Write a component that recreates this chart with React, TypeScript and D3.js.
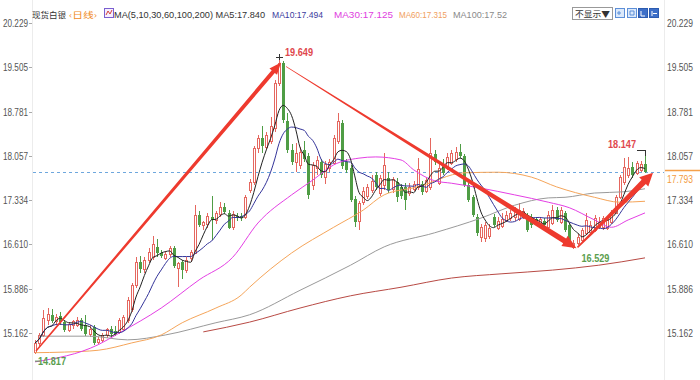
import React from 'react';
import * as d3 from 'd3';

// ---------- data ----------
const tickValues = [20.229, 19.505, 18.781, 18.057, 17.334, 16.61, 15.886, 15.162];
const tickLabels = ['20.229', '19.505', '18.781', '18.057', '17.334', '16.610', '15.886', '15.162'];

const opens = [
  14.85, 15.0, 15.13, 15.38, 15.46, 15.35, 15.44, 15.34, 15.22, 15.28,
  15.3, 15.37, 15.3, 15.14, 15.26, 15.02, 15.05, 15.13, 15.22, 15.2,
  15.18, 15.22, 15.37, 15.54, 15.94, 16.32, 16.2, 16.36, 16.4, 16.57,
  16.47, 16.4, 16.45, 16.55, 16.22, 16.32, 16.19, 16.38, 16.47, 17.09,
  16.92, 16.95, 17.05, 17.0, 17.1, 17.22, 17.12, 16.88, 17.08, 17.07,
  17.06, 17.5, 17.63, 18.19, 18.35, 18.2, 18.3, 18.51, 19.25, 19.57,
  18.62, 18.15, 17.96, 17.91, 18.15, 18.05, 17.58, 17.86, 17.96, 17.72,
  17.86, 17.94, 18.3, 18.59, 17.96, 17.86, 17.35, 16.98, 17.3, 17.4,
  17.5, 17.74, 17.45, 17.58, 17.69, 17.52, 17.63, 17.55, 17.55, 17.45,
  17.52, 17.55, 17.6, 17.48, 17.55, 18.08, 17.62, 17.93, 17.88, 17.94,
  18.0, 18.12, 18.05, 17.58, 17.38, 17.06, 16.73, 16.7, 16.75, 17.06,
  16.88, 16.92, 17.01, 17.04, 17.06, 17.03, 17.06, 17.06, 17.05, 17.02,
  16.96, 17.0, 16.9, 16.96, 17.17, 16.98, 17.12, 16.93, 16.58, 16.63,
  16.68, 16.8, 16.82, 16.85, 16.9, 16.89, 16.88, 16.98, 17.13, 17.39,
  17.62, 17.74, 17.87, 17.78, 17.83, 17.92,
];
const highs = [
  15.05, 15.16, 15.54, 15.57, 15.55, 15.47, 15.5, 15.38, 15.34, 15.38,
  15.42, 15.4, 15.45, 15.3, 15.3, 15.1, 15.16, 15.25, 15.27, 15.28,
  15.4, 15.45, 15.75, 15.98, 16.4, 16.42, 16.4, 16.55, 16.75, 16.7,
  16.52, 16.5, 16.58, 16.58, 16.32, 16.35, 16.4, 16.52, 17.25, 17.15,
  17.0, 17.12, 17.4, 17.15, 17.3, 17.28, 17.18, 17.15, 17.12, 17.12,
  17.42, 17.68, 18.22, 18.4, 18.55, 18.45, 18.7, 19.3, 19.649, 19.6,
  18.75, 18.25, 18.27, 18.2, 18.3, 18.1, 17.95, 18.05, 18.0, 17.98,
  18.0, 18.4, 18.75, 18.65, 18.0, 17.9, 17.4, 17.32, 17.55, 17.6,
  17.75, 17.8, 17.75, 18.1, 17.8, 17.72, 17.7, 17.6, 17.62, 17.62,
  17.65, 18.02, 17.65, 17.7, 18.35, 18.15, 17.92, 18.0, 18.1, 18.15,
  18.2, 18.25, 18.08, 17.62, 17.42, 17.1, 16.95, 16.98, 16.95, 17.1,
  17.05, 17.12, 17.15, 17.18, 17.22, 17.28, 17.2, 17.12, 17.1, 17.06,
  17.05, 17.04, 17.15, 17.25, 17.22, 17.22, 17.15, 16.96, 16.68, 16.78,
  16.88, 17.12, 17.0, 17.09, 17.05, 17.08, 17.06, 17.18, 17.42, 17.75,
  18.02, 18.04, 17.95, 17.97, 17.98, 18.147,
];
const lows = [
  14.817, 14.95, 15.1, 15.3, 15.33, 15.3, 15.3, 15.18, 15.18, 15.22,
  15.26, 15.2, 15.12, 15.1, 14.97, 14.98, 15.02, 15.08, 15.1, 15.12,
  15.15, 15.2, 15.33, 15.5, 15.9, 16.15, 16.15, 16.3, 16.35, 16.4,
  16.38, 16.35, 16.4, 16.22, 15.91, 16.05, 16.15, 16.33, 16.45, 16.9,
  16.85, 16.88, 16.68, 16.95, 17.05, 17.1, 16.86, 16.85, 17.0, 17.0,
  17.02, 17.45, 17.58, 18.1, 18.1, 18.15, 18.25, 18.45, 19.2, 18.6,
  18.1, 17.9, 17.8, 17.85, 17.95, 17.35, 17.5, 17.75, 17.7, 17.6,
  17.8, 17.9, 18.25, 17.85, 17.78, 17.3, 16.9, 16.85, 17.25, 17.35,
  17.45, 17.5, 17.4, 17.5, 17.45, 17.45, 17.3, 17.35, 17.17, 17.4,
  17.48, 17.5, 17.42, 17.45, 17.5, 17.9, 17.58, 17.75, 17.82, 17.9,
  17.95, 18.02, 17.55, 17.3, 17.05, 16.75, 16.65, 16.65, 16.7, 16.9,
  16.85, 16.88, 16.98, 17.0, 17.0, 17.0, 17.02, 16.82, 16.88, 16.96,
  16.92, 16.9, 16.88, 16.92, 16.98, 16.95, 16.82, 16.57, 16.529, 16.6,
  16.65, 16.76, 16.78, 16.82, 16.86, 16.85, 16.85, 16.95, 17.1, 17.35,
  17.58, 17.7, 17.7, 17.74, 17.8, 17.78,
];
const closes = [
  15.0, 15.13, 15.41, 15.48, 15.37, 15.42, 15.34, 15.21, 15.31, 15.35,
  15.38, 15.22, 15.16, 15.22, 15.0, 15.07, 15.13, 15.22, 15.14, 15.15,
  15.37, 15.42, 15.7, 15.94, 16.32, 16.2, 16.35, 16.49, 16.62, 16.47,
  16.42, 16.46, 16.55, 16.26, 16.3, 16.19, 16.36, 16.48, 17.09, 16.93,
  16.97, 17.08, 17.0, 17.12, 17.22, 17.14, 16.88, 17.1, 17.05, 17.04,
  17.38, 17.63, 18.19, 18.35, 18.22, 18.4, 18.55, 19.25, 19.57, 18.64,
  18.15, 17.96, 18.1, 18.12, 18.0, 17.42, 17.9, 17.99, 17.75, 17.93,
  17.96, 18.35, 18.62, 17.88, 17.83, 17.34, 16.98, 17.28, 17.48, 17.55,
  17.65, 17.55, 17.7, 17.9, 17.5, 17.68, 17.38, 17.4, 17.34, 17.55,
  17.6, 17.85, 17.47, 17.66, 18.1, 17.95, 17.86, 17.78, 18.04, 18.1,
  18.12, 18.06, 17.58, 17.34, 17.09, 16.8, 16.89, 16.92, 16.88, 16.93,
  17.0, 17.03, 17.09, 17.12, 17.17, 17.17, 17.15, 16.85, 16.92, 16.99,
  17.02, 16.94, 17.09, 17.18, 17.01, 17.17, 16.85, 16.6, 16.64, 16.73,
  16.85, 17.01, 16.93, 17.04, 16.98, 17.04, 17.02, 17.14, 17.39, 17.71,
  17.87, 17.86, 17.74, 17.94, 17.92, 17.793,
];

// long moving averages (candle index, value)
const ma30Idx = [0, 15, 20, 30, 39, 47, 53, 61, 66, 71, 77, 81, 87, 90, 95, 99, 106, 114, 122, 127, 133, 137, 141, 145];
const ma30Val = [14.69, 14.97, 15.16, 15.57, 16.03, 16.4, 16.96, 17.42, 17.66, 17.91, 18.02, 18.04, 17.99, 17.83, 17.65, 17.61, 17.53, 17.42, 17.3, 17.21, 17.01, 16.89, 17.01, 17.125];
const ma60Idx = [0, 7, 15, 23, 30, 35, 43, 49, 51, 61, 71, 78, 83, 91, 102, 110, 118, 124, 133, 139, 145];
const ma60Val = [14.84, 14.85, 14.88, 15.0, 15.13, 15.33, 15.57, 15.78, 15.91, 16.47, 16.89, 17.17, 17.42, 17.55, 17.78, 17.79, 17.71, 17.55, 17.38, 17.3, 17.315];
const ma100Idx = [1, 13, 22, 31, 43, 51, 63, 75, 83, 95, 106, 114, 122, 126, 133, 140, 145];
const ma100Val = [15.11, 15.11, 15.05, 15.13, 15.33, 15.46, 15.86, 16.27, 16.57, 16.8, 17.04, 17.25, 17.37, 17.38, 17.45, 17.47, 17.52];
const ma200Idx = [40, 51, 63, 75, 87, 99, 111, 123, 134, 145];
const ma200Val = [15.18, 15.34, 15.57, 15.77, 15.91, 16.06, 16.13, 16.19, 16.27, 16.39];

const legendItems = [
  { text: 'MA(5,10,30,60,100,200) MA5:17.840', color: '#333333' },
  { text: 'MA10:17.494', color: '#3b3b9e' },
  { text: 'MA30:17.125', color: '#e040e0' },
  { text: 'MA60:17.315', color: '#f0a060' },
  { text: 'MA100:17.52', color: '#8a8a8a' },
];

const RED = '#e5675f';
const GREEN = '#4f9d45';
const ARROW = '#ee3a2e';

function taperArrow(x0: number, y0: number, x1: number, y1: number, w0: number, w1: number, hl: number, hw: number) {
  const dx = x1 - x0, dy = y1 - y0;
  const len = Math.hypot(dx, dy);
  const ux = dx / len, uy = dy / len;
  const nx = -uy, ny = ux;
  const bx = x1 - ux * hl, by = y1 - uy * hl;
  const pts: [number, number][] = [
    [x0 + nx * w0 / 2, y0 + ny * w0 / 2],
    [bx + nx * w1 / 2, by + ny * w1 / 2],
    [bx + nx * hw / 2, by + ny * hw / 2],
    [x1, y1],
    [bx - nx * hw / 2, by - ny * hw / 2],
    [bx - nx * w1 / 2, by - ny * w1 / 2],
    [x0 - nx * w0 / 2, y0 - ny * w0 / 2],
  ];
  return 'M' + pts.map((p) => p[0].toFixed(2) + ',' + p[1].toFixed(2)).join('L') + 'Z';
}

export default function App() {
  const W = 700, H = 380;
  const n = closes.length;
  const x = d3.scaleLinear().domain([0, n - 1]).range([35, 645]);
  const y = d3.scaleLinear().domain([15.162, 20.229]).range([333, 23]);

  const maOf = (p: number) =>
    closes.map((_, i) => d3.mean(closes.slice(Math.max(0, i - p + 1), i + 1)) as number);
  const ma5 = maOf(5);
  const ma10 = maOf(10);

  const lineIdx = d3.line<number>().x((_, i) => x(i)).y((d) => y(d)).curve(d3.curveMonotoneX);
  const sparse = (idx: number[], val: number[]) =>
    d3.line<number>().x((d) => x(d)).y((_, i) => y(val[i])).curve(d3.curveMonotoneX)(idx) as string;

  const font = "'Liberation Sans', Arial, 'Noto Sans CJK SC', sans-serif";
  const cjk = "'Noto Sans CJK SC', 'Liberation Sans', sans-serif";

  const lastY = y(closes[n - 1]);
  const peakI = highs.indexOf(d3.max(highs) as number);
  const lowI = lows.indexOf(d3.min(lows) as number);
  const troughI = 128;
  const recentHighI = n - 1;

  // legend x positions and widths
  const legendX = [114, 272, 334, 399, 453];
  const legendW = [151, 51, 59, 48, 54];

  return (
    <svg width={W} height={H} style={{ position: 'absolute', left: 0, top: 0, background: '#fff' }} fontFamily={font}>
      <rect x={0} y={0} width={W} height={H} fill="#ffffff" />
      {/* axis boundary lines */}
      <line x1={32.5} x2={32.5} y1={0} y2={H} stroke="#ececec" />
      <line x1={664.5} x2={664.5} y1={0} y2={H} stroke="#ececec" />

      {/* tick labels */}
      {tickValues.map((v, i) => (
        <g key={'t' + i}>
          <text x={3} y={y(v) + 4} fontSize={10.5} fill="#555" textLength={25} lengthAdjust="spacingAndGlyphs">{tickLabels[i]}</text>
          <line x1={29} x2={32} y1={Math.round(y(v)) + 0.5} y2={Math.round(y(v)) + 0.5} stroke="#aaa" />
          <text x={667} y={y(v) + 4} fontSize={10.5} fill="#555" textLength={26} lengthAdjust="spacingAndGlyphs">{tickLabels[i]}</text>
        </g>
      ))}

      {/* current price dashed line */}
      <line x1={33} x2={664} y1={Math.round(lastY) + 0.5} y2={Math.round(lastY) + 0.5} stroke="#6ea7dd" strokeDasharray="3,3" />
      <line x1={665} x2={700} y1={Math.round(lastY) - 1.5} y2={Math.round(lastY) - 1.5} stroke="#f5a04a" strokeWidth={1.5} />
      <text x={667} y={lastY + 11} fontSize={10.5} fill="#f39a3c" textLength={26} lengthAdjust="spacingAndGlyphs">17.793</text>

      {/* candles */}
      {closes.map((c, i) => {
        const o = opens[i];
        const cx = Math.round(x(i));
        const up = c >= o;
        const top = y(Math.max(o, c));
        const bot = y(Math.min(o, c));
        const col = up ? RED : GREEN;
        return (
          <g key={'c' + i} shapeRendering="crispEdges">
            <line x1={cx + 0.5} x2={cx + 0.5} y1={y(highs[i])} y2={y(lows[i])} stroke={col} />
            {up ? (
              <rect x={cx - 0.5} y={Math.round(top) + 0.5} width={2} height={Math.max(1, Math.round(bot - top))} fill="#fff" stroke={col} />
            ) : (
              <rect x={cx - 1} y={Math.round(top)} width={3} height={Math.max(1, Math.round(bot - top))} fill={col} />
            )}
          </g>
        );
      })}

      {/* moving averages */}
      <path d={sparse(ma200Idx, ma200Val)} fill="none" stroke="#b84a44" strokeWidth={1} />
      <path d={sparse(ma100Idx, ma100Val)} fill="none" stroke="#9a9a9a" strokeWidth={1} />
      <path d={sparse(ma60Idx, ma60Val)} fill="none" stroke="#f5a55a" strokeWidth={1} />
      <path d={sparse(ma30Idx, ma30Val)} fill="none" stroke="#e43fe4" strokeWidth={1} />
      <path d={lineIdx(ma10) as string} fill="none" stroke="#34349a" strokeWidth={1} />
      <path d={lineIdx(ma5) as string} fill="none" stroke="#222" strokeWidth={1} />

      {/* trend arrows */}
      <path d={taperArrow(x(0) + 1, y(lows[0]) - 3, x(peakI) + 2, y(highs[peakI]) + 4, 1.5, 4, 12, 10)} fill={ARROW} />
      <path d={taperArrow(x(peakI) + 7, y(highs[peakI]) + 8, x(troughI) + 3, y(lows[troughI]) - 1, 0.8, 5.5, 14, 12)} fill={ARROW} />
      <path d={taperArrow(x(troughI) + 4, y(lows[troughI]) - 2, 653, y(17.78), 1.5, 6, 13, 13)} fill={ARROW} />

      {/* extreme annotations */}
      <g stroke="#333" strokeWidth={1} shapeRendering="crispEdges">
        <line x1={x(peakI) - 3} x2={x(peakI) + 4} y1={Math.round(y(highs[peakI])) - 0.5} y2={Math.round(y(highs[peakI])) - 0.5} />
        <line x1={Math.round(x(peakI)) + 0.5} x2={Math.round(x(peakI)) + 0.5} y1={y(highs[peakI]) - 4} y2={y(highs[peakI]) + 2} />
        <line x1={x(recentHighI) - 8} x2={x(recentHighI) + 1} y1={Math.round(y(highs[recentHighI])) + 0.5} y2={Math.round(y(highs[recentHighI])) + 0.5} />
        <line x1={Math.round(x(recentHighI)) + 0.5} x2={Math.round(x(recentHighI)) + 0.5} y1={y(highs[recentHighI])} y2={y(highs[recentHighI]) + 6} />
      </g>
      <text x={x(peakI) + 6} y={y(highs[peakI]) - 2} fontSize={10.5} fontWeight="bold" fill="#e0474c" textLength={28} lengthAdjust="spacingAndGlyphs">19.649</text>
      <text x={x(lowI) + 3} y={y(lows[lowI]) + 11} fontSize={10.5} fontWeight="bold" fill="#5a9e4e" textLength={28} lengthAdjust="spacingAndGlyphs">14.817</text>
      <line x1={x(lowI)} x2={x(lowI) + 5} y1={y(lows[lowI]) + 7} y2={y(lows[lowI]) + 7} stroke="#5a9e4e" />
      <text x={x(troughI) + 8} y={y(lows[troughI]) + 13} fontSize={10.5} fontWeight="bold" fill="#5a9e4e" textLength={28} lengthAdjust="spacingAndGlyphs">16.529</text>
      <text x={608} y={y(highs[recentHighI]) - 2} fontSize={10.5} fontWeight="bold" fill="#e0474c" textLength={28} lengthAdjust="spacingAndGlyphs">18.147</text>

      {/* header legend */}
      <text x={32} y={18} fontSize={8.5} fill="#333" fontFamily={cjk} textLength={34} lengthAdjust="spacingAndGlyphs">现货白银</text>
      <text x={69} y={18} fontSize={8.5} fill="#f08a24" fontFamily={cjk} textLength={28} lengthAdjust="spacingAndGlyphs">‹日线›</text>
      <rect x={104.5} y={8.5} width={9} height={9} fill="#f6eefe" stroke="#7a5fd0" />
      <path d="M106,15 L108,11 L110,14 L112,10" fill="none" stroke="#d2443c" />
      {legendItems.map((it, i) => (
        <text key={'l' + i} x={legendX[i]} y={18} fontSize={9} fill={it.color} textLength={legendW[i]} lengthAdjust="spacingAndGlyphs">{it.text}</text>
      ))}

      {/* top-right controls */}
      <rect x={572.5} y={7.5} width={40} height={12} fill="#fff" stroke="#999" />
      <text x={575} y={17} fontSize={8.5} fill="#333" fontFamily={cjk} textLength={35} lengthAdjust="spacingAndGlyphs">不显示▼</text>
      <rect x={615.5} y={8.5} width={9} height={9} fill="#dbe9fb" stroke="#5d8fd8" />
      <rect x={627.5} y={8.5} width={9} height={9} fill="#dbe9fb" stroke="#5d8fd8" />
      <rect x={638.5} y={8.5} width={9} height={9} fill="#3d6fc8" stroke="#2c5bb0" />
      <rect x={649.5} y={8.5} width={9} height={9} fill="#3d6fc8" stroke="#2c5bb0" />
      <path d="M619,11 v4 M617,13 h4" stroke="#5d8fd8" />
      <path d="M630,11 h4 v4 h-4z" stroke="#5d8fd8" fill="none" />
      <path d="M641,11 v5 h4" stroke="#fff" fill="none" />
      <path d="M652,11 v5 M653,13.5 h4" stroke="#fff" fill="none" />
    </svg>
  );
}
